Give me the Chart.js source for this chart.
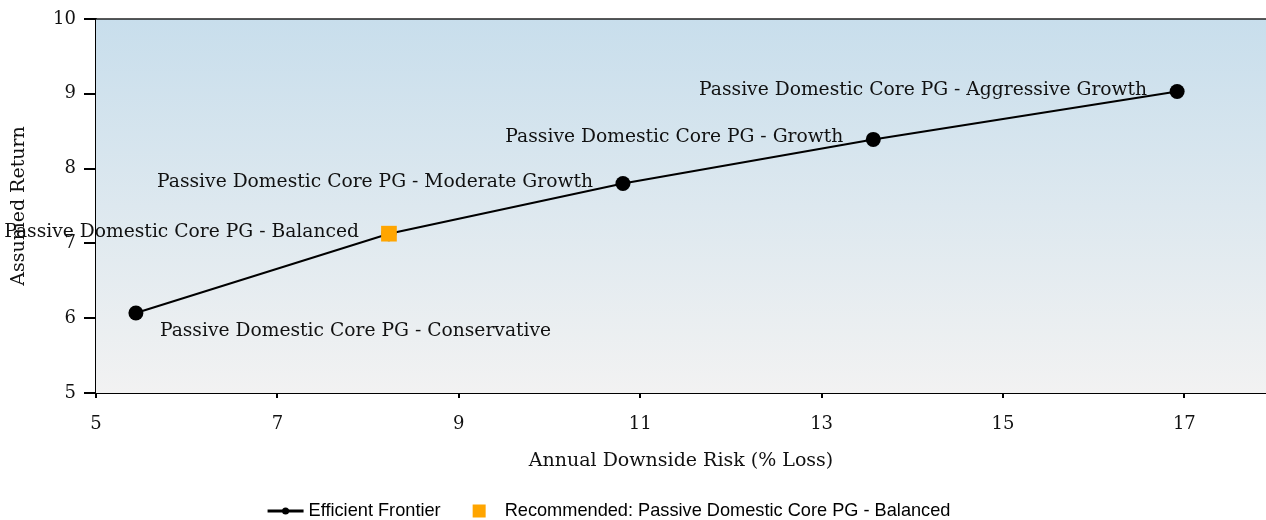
<!DOCTYPE html>
<html>
<head>
<meta charset="utf-8">
<title>Efficient Frontier</title>
<script src="https://cdn.jsdelivr.net/npm/chart.js@4.4.0/dist/chart.umd.min.js"></script>
<style>
  html, body { margin: 0; padding: 0; background: #fff; overflow: hidden; }
  canvas { display: block; }
</style>
</head>
<body>
<canvas id="frontierChart" width="1266" height="520"></canvas>
<script>
// portfolios along the frontier, lowest risk first
const portfolioNames = [
  'Passive Domestic Core PG - Conservative',
  'Passive Domestic Core PG - Balanced',
  'Passive Domestic Core PG - Moderate Growth',
  'Passive Domestic Core PG - Growth',
  'Passive Domestic Core PG - Aggressive Growth',
];
const downsideRisk = [5.44, 8.23, 10.81, 13.57, 16.92];
const assumedReturn = [6.07, 7.13, 7.80, 8.39, 9.03];
const recommendedIndex = 1;

const xTickValues = [5, 7, 9, 11, 13, 15, 17];
const yTickValues = [5, 6, 7, 8, 9, 10];
const xRange = [5, 17.9];
const yRange = [5, 10];

const serif = '"DejaVu Serif", "Liberation Serif", serif';
const sans = '"Liberation Sans", Arial, sans-serif';

const frontierPoints = downsideRisk.map((x, i) => ({ x, y: assumedReturn[i] }));
const recommendedPoint = [{ x: downsideRisk[recommendedIndex], y: assumedReturn[recommendedIndex] }];

// gradient behind the plot + the line across the top
const plotBackground = {
  id: 'plotBackground',
  beforeDatasetsDraw(chart) {
    const { ctx, chartArea } = chart;
    const grad = ctx.createLinearGradient(0, chartArea.top, 0, chartArea.bottom);
    grad.addColorStop(0, '#c8deec');
    grad.addColorStop(1, '#f2f2f2');
    ctx.save();
    ctx.fillStyle = grad;
    ctx.fillRect(chartArea.left, chartArea.top, chartArea.right - chartArea.left, chartArea.bottom - chartArea.top);
    ctx.strokeStyle = '#222';
    ctx.lineWidth = 1.5;
    ctx.beginPath();
    ctx.moveTo(chartArea.left, chartArea.top);
    ctx.lineTo(chartArea.right, chartArea.top);
    ctx.stroke();
    ctx.restore();
  },
};

// portfolio names next to each point
const pointLabels = {
  id: 'pointLabels',
  afterDatasetsDraw(chart) {
    const { ctx } = chart;
    const xs = chart.scales.x;
    const ys = chart.scales.y;
    ctx.save();
    ctx.font = '18.7px ' + serif;
    ctx.fillStyle = '#111';
    ctx.textBaseline = 'alphabetic';
    portfolioNames.forEach((name, i) => {
      const px = xs.getPixelForValue(downsideRisk[i]);
      const py = ys.getPixelForValue(assumedReturn[i]);
      if (i === 0) {
        ctx.textAlign = 'left';
        ctx.fillText(name, px + 24, py + 23);
      } else {
        ctx.textAlign = 'right';
        ctx.fillText(name, px - 30, py + 3);
      }
    });
    ctx.restore();
  },
};

// legend drawn by hand: a line with a dot, then the orange square
const bottomLegend = {
  id: 'bottomLegend',
  afterDraw(chart) {
    const { ctx } = chart;
    const ds = chart.data.datasets;
    ctx.save();
    ctx.font = '18.2px ' + sans;
    ctx.textBaseline = 'middle';
    ctx.textAlign = 'left';
    const w0 = ctx.measureText(ds[0].label).width;
    const w1 = ctx.measureText(ds[1].label).width;
    const total = 36 + 5 + w0 + 32 + 13 + 19 + w1;
    let x = 609 - total / 2;
    const y = chart.height - 9;

    ctx.strokeStyle = ds[0].borderColor;
    ctx.lineWidth = 3;
    ctx.beginPath();
    ctx.moveTo(x, y);
    ctx.lineTo(x + 36, y);
    ctx.stroke();
    ctx.fillStyle = ds[0].backgroundColor;
    ctx.beginPath();
    ctx.arc(x + 18, y, 3.5, 0, Math.PI * 2);
    ctx.fill();
    x += 41;
    ctx.fillStyle = '#000';
    ctx.fillText(ds[0].label, x, y);
    x += w0 + 32;

    ctx.fillStyle = ds[1].backgroundColor;
    ctx.fillRect(x, y - 6.5, 13, 13);
    x += 32;
    ctx.fillStyle = '#000';
    ctx.fillText(ds[1].label, x, y);
    ctx.restore();
  },
};

new Chart(document.getElementById('frontierChart'), {
  type: 'scatter',
  data: {
    datasets: [
      {
        label: 'Efficient Frontier',
        data: frontierPoints,
        showLine: true,
        borderColor: '#000',
        backgroundColor: '#000',
        borderWidth: 2,
        pointRadius: 7.5,
        pointBorderWidth: 0,
        order: 2,
      },
      {
        label: 'Recommended: ' + portfolioNames[recommendedIndex],
        data: recommendedPoint,
        pointStyle: 'rect',
        pointRadius: 11.1,
        pointBorderWidth: 0,
        backgroundColor: '#ffa500',
        borderColor: '#ffa500',
        order: 1,
      },
    ],
  },
  options: {
    responsive: false,
    animation: false,
    events: [],
    layout: { autoPadding: false, padding: { top: 19, right: 0, bottom: 40, left: 0 } },
    plugins: {
      legend: { display: false },
      tooltip: { enabled: false },
    },
    scales: {
      x: {
        type: 'linear',
        min: xRange[0],
        max: xRange[1],
        afterBuildTicks(scale) {
          scale.ticks = xTickValues.map(v => ({ value: v }));
        },
        afterFit(scale) {
          scale.height = 87;
          scale.paddingLeft = 0;
          scale.paddingRight = 0;
        },
        border: { display: true, color: '#000', width: 2 },
        grid: { drawOnChartArea: false, drawTicks: true, tickLength: 5, color: '#000', lineWidth: 2 },
        ticks: { color: '#111', font: { family: serif, size: 18 }, padding: 16, maxRotation: 0 },
        title: {
          display: true,
          text: 'Annual Downside Risk (% Loss)',
          color: '#111',
          font: { family: serif, size: 19 },
          padding: { top: 0, bottom: 8 },
        },
      },
      y: {
        type: 'linear',
        min: yRange[0],
        max: yRange[1],
        afterBuildTicks(scale) {
          scale.ticks = yTickValues.map(v => ({ value: v }));
        },
        afterFit(scale) { scale.width = 96; },
        border: { display: true, color: '#000', width: 2 },
        grid: { drawOnChartArea: false, drawTicks: true, tickLength: 12, color: '#000', lineWidth: 2 },
        ticks: { color: '#111', font: { family: serif, size: 18 }, padding: 8 },
        title: {
          display: true,
          text: 'Assumed Return',
          color: '#111',
          font: { family: serif, size: 19 },
          padding: { top: 8, bottom: 0 },
        },
      },
    },
  },
  plugins: [plotBackground, pointLabels, bottomLegend],
});
</script>
</body>
</html>
